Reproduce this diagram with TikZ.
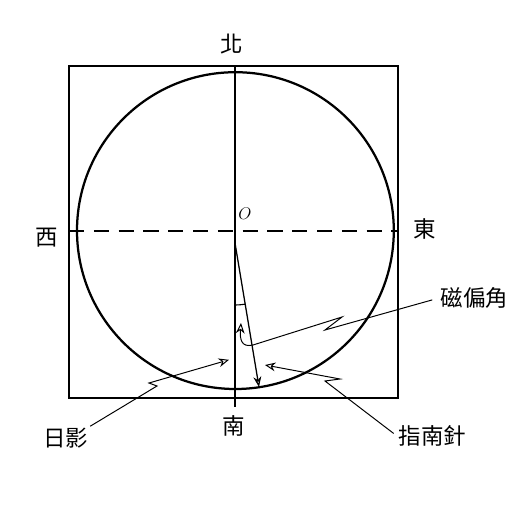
\documentclass[tikz,border=0pt]{standalone}
\usepackage{fontspec}
\newfontfamily\cjk{Noto Sans CJK TC}
\usetikzlibrary{arrows.meta}

\begin{document}
\begin{tikzpicture}[
    lbl/.style={font=\cjk\fontsize{16}{19}\selectfont, inner sep=1pt},
    ptr/.style={line width=0.7pt, -{Stealth[length=2.6mm, width=2.2mm, open]}}
  ]
  \useasboundingbox (-5.875,5.775) rectangle (7.4,-6.975);
  \fill[white] (-5.875,5.775) rectangle (7.4,-6.975);

  % frame, circle and axes
  \coordinate (O) at (0,0);
  \coordinate (top) at (0,4.125);
  \coordinate (bot) at (0,-4.4);
  \coordinate (lft) at (-4.15,0);
  \coordinate (rgt) at (4.075,0);
  \draw[line width=1.4pt] (-4.15,-4.175) rectangle (4.075,4.125);
  \draw[line width=1.6pt] (0.01,0.01) circle (3.96);
  \draw[line width=0.9pt] (top) -- (bot);
  \draw[line width=1.1pt, dash pattern=on 0.38cm off 0.24cm] (lft) -- (rgt);

  \node[lbl] (north) at (-0.075,4.675) {北};
  \node[lbl] (west) at (-4.7,-0.175) {西};
  \node[lbl] (east) at (4.75,0.05) {東};
  \node[lbl] (south) at (-0.025,-4.875) {南};
  \node[inner sep=1pt, font=\large] (o) at (0.25,0.425) {$O$};

  % needle and declination angle
  \coordinate (n1) at (0,-0.3);
  \coordinate (n2) at (0.6,-3.9);
  \draw[line width=0.9pt, -{Stealth[length=2.6mm, width=2mm, open]}] (n1) -- (n2);
  \draw[line width=0.8pt] (0,-1.85) arc[start angle=-90, end angle=-80.5, radius=1.55];

  % labels with pointers
  \node[lbl, anchor=west] (decl) at (5.1,-1.675) {磁偏角};
  \node[lbl] (shadow) at (-4.225,-5.175) {日影};
  \node[lbl, anchor=west] (needle) at (4.05,-5.125) {指南針};

  \draw[ptr, shorten <=5pt] (decl.west) -- (2.25,-2.475) -- (2.675,-2.15) -- (0.45,-2.85)
    .. controls (0.15,-2.92) and (0.12,-2.7) .. (0.15,-2.3);
  \draw[ptr] (shadow.north east) -- (-1.95,-3.875) -- (-2.15,-3.8) -- (-0.15,-3.22);
  \draw[ptr, shorten <=3pt] (needle.west) -- (2.25,-3.75) -- (2.625,-3.7) -- (0.75,-3.35);
\end{tikzpicture}
\end{document}
